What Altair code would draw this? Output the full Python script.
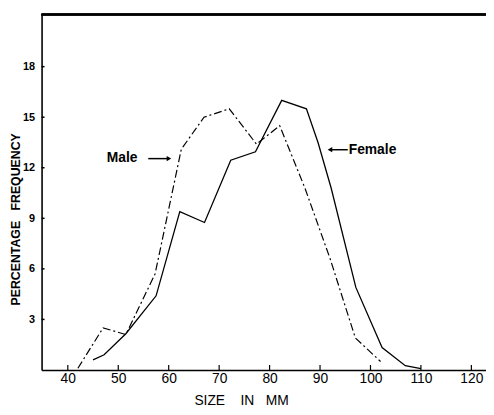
import altair as alt
import pandas as pd

# Data
male_size = [42, 47, 51.5, 57.3, 62.5, 67, 72, 77.4, 82, 87, 92, 97, 102]
male_freq = [0.1, 2.5, 2.1, 5.7, 13.1, 15.0, 15.5, 13.4, 14.5, 10.8, 6.6, 1.9, 0.5]

female_size = [45, 47.2, 51.5, 57.5, 62.2, 67.1, 72.3, 77.2, 82.4, 87.3, 89.6, 92.2, 97.1, 102.3, 106.9, 110]
female_freq = [0.6, 0.9, 2.15, 4.4, 9.4, 8.75, 12.45, 12.95, 16.0, 15.5, 13.5, 10.8, 4.9, 1.33, 0.25, 0.08]

x_ticks = [40, 50, 60, 70, 80, 90, 100, 110, 120]
y_ticks = [3, 6, 9, 12, 15, 18]

X_DOM = [34.8, 122.9]
Y_DOM = [0, 21.1]

NB = "\u00a0"

male_df = pd.DataFrame({"size": male_size, "freq": male_freq})
female_df = pd.DataFrame({"size": female_size, "freq": female_freq})

xs = alt.Scale(domain=X_DOM, nice=False, zero=False)
ys = alt.Scale(domain=Y_DOM, nice=False, zero=False)

x_axis = alt.Axis(
    values=x_ticks, ticks=False, grid=False, labelFont="Liberation Sans",
    labelFontSize=14, labelColor="black", labelPadding=2,
    domainColor="black", domainWidth=1.6,
    title="SIZE" + NB * 4 + "IN" + NB * 3 + "MM", titleFont="Liberation Sans", titleFontSize=14,
    titleFontWeight="normal", titleColor="black", titleX=202, titleY=35,
    titleBaseline="alphabetic", titleAlign="center",
)
y_axis = alt.Axis(
    values=y_ticks, ticks=False, grid=False, labelFont="Liberation Sans",
    labelFontSize=11, labelFontWeight="bold", labelColor="black", labelPadding=7,
    domainColor="black", domainWidth=1.6,
    title="PERCENTAGE" + NB * 3 + "FREQUENCY", titleFont="Liberation Sans", titleFontSize=12.5,
    titleFontWeight="bold", titleColor="black", titleX=-22, titleY=207,
    titleAlign="center", titleBaseline="alphabetic", titleAngle=270,
)

male = alt.Chart(male_df).mark_line(
    color="black", strokeWidth=1.2, strokeDash=[8, 3, 2, 3]
).encode(
    x=alt.X("size:Q", scale=xs, axis=x_axis),
    y=alt.Y("freq:Q", scale=ys, axis=y_axis),
    order="size:Q",
)

female = alt.Chart(female_df).mark_line(color="black", strokeWidth=1.3).encode(
    x=alt.X("size:Q", scale=xs),
    y=alt.Y("freq:Q", scale=ys),
    order="size:Q",
)

xt = pd.DataFrame({"t": x_ticks})
x_tick_marks = alt.Chart(xt).mark_rule(color="black", strokeWidth=1.2).encode(
    x=alt.X("t:Q", scale=xs),
    y=alt.value(360),
    y2=alt.value(355),
)
yt = pd.DataFrame({"t": y_ticks})
y_tick_marks = alt.Chart(yt).mark_rule(color="black", strokeWidth=1.5).encode(
    y=alt.Y("t:Q", scale=ys),
    x=alt.value(0),
    x2=alt.value(3),
)

top_border = alt.Chart(xt).mark_rule(color="black", strokeWidth=1.5).encode(
    x=alt.value(0), x2=alt.value(450), y=alt.value(0)
)

lbl = pd.DataFrame({"name": ["Male", "Female"]})
male_text = alt.Chart(lbl).transform_filter(alt.datum.name == "Male").mark_text(
    font="Liberation Sans", fontSize=14, fontWeight="bold", color="black",
    align="left", baseline="alphabetic",
).encode(text="name:N", x=alt.value(66), y=alt.value(149))
female_text = alt.Chart(lbl).transform_filter(alt.datum.name == "Female").mark_text(
    font="Liberation Sans", fontSize=14, fontWeight="bold", color="black",
    align="left", baseline="alphabetic",
).encode(text="name:N", x=alt.value(311), y=alt.value(141))

male_arrow = alt.Chart(lbl).transform_filter(alt.datum.name == "Male").mark_rule(
    color="black", strokeWidth=1.5
).encode(x=alt.value(108), x2=alt.value(128), y=alt.value(146))
male_head = alt.Chart(lbl).transform_filter(alt.datum.name == "Male").mark_point(
    shape="triangle-right", filled=True, color="black", size=28, opacity=1
).encode(x=alt.value(129), y=alt.value(146))

female_arrow = alt.Chart(lbl).transform_filter(alt.datum.name == "Female").mark_rule(
    color="black", strokeWidth=1.5
).encode(x=alt.value(293), x2=alt.value(310), y=alt.value(137))
female_head = alt.Chart(lbl).transform_filter(alt.datum.name == "Female").mark_point(
    shape="triangle-left", filled=True, color="black", size=28, opacity=1
).encode(x=alt.value(292), y=alt.value(137))

chart = alt.layer(
    male, female, x_tick_marks, y_tick_marks, top_border,
    male_text, female_text, male_arrow, male_head, female_arrow, female_head,
).properties(
    width=450, height=360,
    autosize=alt.AutoSizeParams(type="none"),
    padding={"left": 34, "top": 4, "right": 0, "bottom": 35},
    background="white",
).configure_view(stroke=None)

chart.save("out.html", embed_options={"renderer": "svg", "actions": False})
